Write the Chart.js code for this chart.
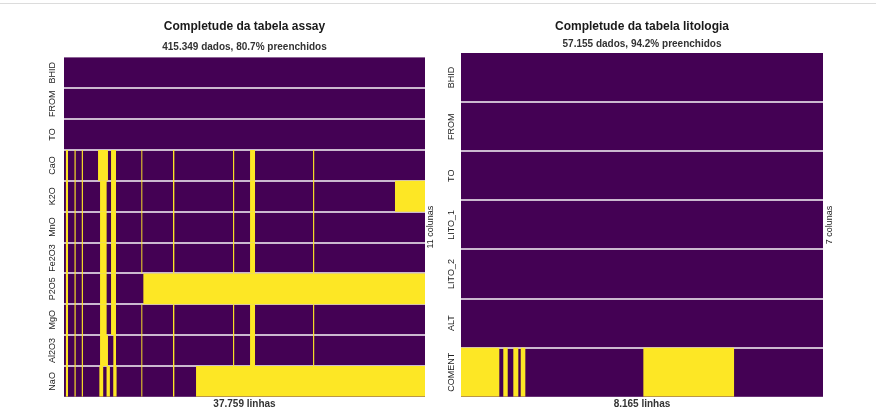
<!DOCTYPE html>
<html>
<head>
<meta charset="utf-8">
<script src="https://cdn.jsdelivr.net/npm/chart.js@4/dist/chart.umd.min.js"></script>
<style>
  body { margin: 0; background: #fff; width: 876px; height: 415px; overflow: hidden; position: relative; }
  #topline { position: absolute; left: 0; top: 3px; width: 876px; height: 1px; background: #dcdcdc; }
  canvas { position: absolute; top: 0; }
  #assay { left: 0; }
  #lito { left: 440px; }
</style>
</head>
<body>
<div id="topline"></div>
<canvas id="assay" width="440" height="415"></canvas>
<canvas id="lito" width="436" height="415"></canvas>
<script>
// tabela assay
const assayCols = ['BHID', 'FROM', 'TO', 'CaO', 'K2O', 'MnO', 'Fe2O3', 'P2O5', 'MgO', 'Al2O3', 'NaO'];
const assayRows = 37759;
// intervalos de linhas vazias (inicio, fim) por coluna
const assayGaps = [
    [],
    [],
    [],
    [[200, 420], [1100, 1220], [1860, 1980], [3560, 4600], [4920, 5440], [8090, 8190], [11400, 11540], [17680, 17800], [19460, 19980], [26050, 26170]],
    [[200, 420], [1100, 1220], [1860, 1980], [3770, 4460], [4920, 5440], [8090, 8190], [11400, 11540], [17680, 17800], [19460, 19980], [26050, 26170], [34620, 37759]],
    [[200, 420], [1100, 1220], [1860, 1980], [3770, 4460], [4920, 5440], [8090, 8190], [11400, 11540], [17680, 17800], [19460, 19980], [26050, 26170]],
    [[200, 420], [1100, 1220], [1860, 1980], [3770, 4460], [4920, 5440], [8090, 8190], [11400, 11540], [17680, 17800], [19460, 19980], [26050, 26170]],
    [[200, 420], [1100, 1220], [1860, 1980], [3770, 4460], [4920, 5440], [8300, 37759]],
    [[200, 420], [1100, 1220], [1860, 1980], [3770, 4460], [4920, 5440], [8090, 8190], [11400, 11540], [17680, 17800], [19460, 19980], [26050, 26170]],
    [[200, 420], [1100, 1220], [1860, 1980], [3770, 4600], [5160, 5440], [8090, 8190], [11400, 11540], [17680, 17800], [19460, 19980], [26050, 26170]],
    [[200, 420], [1100, 1220], [1860, 1980], [3700, 4100], [4450, 4800], [5150, 5500], [8090, 8190], [11400, 11540], [13810, 37759]]
];

// tabela litologia
const litoCols = ['BHID', 'FROM', 'TO', 'LITO_1', 'LITO_2', 'ALT', 'COMENT'];
const litoRows = 8165;
const litoGaps = [
    [],
    [],
    [],
    [],
    [],
    [],
    [[0, 864], [954, 1054], [1180, 1293], [1347, 1451], [4113, 6159]]
];

const PURPLE = '#440154';
const YELLOW = '#fde725';
const SEP = 'rgba(255, 255, 255, 0.72)';

Chart.defaults.font.family = '"Liberation Sans", Arial, sans-serif';
Chart.defaults.color = '#222';

// fundo roxo + rotulos girados
const matrixPlugin = {
    id: 'matrix',
    beforeDraw(chart) {
        const a = chart.chartArea;
        const ctx = chart.ctx;
        ctx.save();
        ctx.fillStyle = PURPLE;
        ctx.fillRect(a.left, a.top, a.right - a.left, a.bottom - a.top);
        ctx.restore();
    },
    afterDraw(chart, args, opts) {
        const a = chart.chartArea;
        const ctx = chart.ctx;
        const y = chart.scales.y;
        ctx.save();
        ctx.fillStyle = '#222';
        ctx.textAlign = 'center';
        ctx.textBaseline = 'middle';
        ctx.font = '9px "Liberation Sans", Arial, sans-serif';
        opts.cols.forEach((c, i) => {
            ctx.save();
            ctx.translate(a.left - opts.labelGap, y.getPixelForValue(i));
            ctx.rotate(-Math.PI / 2);
            ctx.fillText(c, 0, 0);
            ctx.restore();
        });
        ctx.translate(a.right + opts.sideGap, (a.top + a.bottom) / 2);
        ctx.rotate(-Math.PI / 2);
        ctx.fillText(opts.cols.length + ' colunas', 0, 0);
        ctx.restore();
    }
};

function fmt(n) {
    return n.toLocaleString('de-DE');
}

function drawMatrix(id, cols, gaps, rows, cfg) {
    const data = [];
    cols.forEach((c, i) => gaps[i].forEach(g => data.push({ y: c, x: g })));

    return new Chart(document.getElementById(id), {
        type: 'bar',
        data: {
            labels: cols,
            datasets: [{
                data: data,
                backgroundColor: YELLOW,
                borderWidth: 0,
                inflateAmount: 0,
                barPercentage: 1,
                categoryPercentage: 1,
                grouped: false
            }]
        },
        options: {
            indexAxis: 'y',
            responsive: false,
            animation: false,
            layout: { padding: cfg.padding },
            plugins: {
                legend: { display: false },
                tooltip: { enabled: false },
                title: {
                    display: true,
                    text: cfg.title,
                    font: { size: 12, weight: 'bold' },
                    color: '#1a1a1a',
                    padding: cfg.titlePad
                },
                subtitle: {
                    display: true,
                    text: cfg.subtitle,
                    font: { size: 10, weight: 'bold' },
                    color: '#333',
                    padding: cfg.subPad
                },
                matrix: { cols: cols, labelGap: cfg.labelGap, sideGap: cfg.sideGap }
            },
            scales: {
                x: {
                    type: 'linear',
                    min: 0,
                    max: rows,
                    ticks: { display: false },
                    grid: { display: false, drawTicks: false },
                    border: { display: false },
                    title: {
                        display: true,
                        text: fmt(rows) + ' linhas',
                        font: { size: 10, weight: 'bold' },
                        color: '#333',
                        padding: { top: 1.6, bottom: 4.6 }
                    }
                },
                y: {
                    type: 'category',
                    offset: true,
                    z: 1,
                    ticks: { display: false },
                    border: { display: false },
                    grid: {
                        offset: true,
                        drawTicks: false,
                        lineWidth: 2,
                        color: ctx => (ctx.index > 0 ? SEP : 'transparent')
                    }
                }
            }
        },
        plugins: [matrixPlugin]
    });
}

drawMatrix('assay', assayCols, assayGaps, assayRows, {
    title: 'Completude da tabela assay',
    subtitle: '415.349 dados, 80.7% preenchidos',
    padding: { left: 64, right: 15, top: 0, bottom: 0 },
    titlePad: { top: 19, bottom: 6 },
    subPad: { top: 2, bottom: 4 },
    labelGap: 11,
    sideGap: 6
});

drawMatrix('lito', litoCols, litoGaps, litoRows, {
    title: 'Completude da tabela litologia',
    subtitle: '57.155 dados, 94.2% preenchidos',
    padding: { left: 21, right: 53, top: 0, bottom: 0 },
    titlePad: { top: 19, bottom: 4 },
    subPad: { top: 0.6, bottom: 3 },
    labelGap: 9,
    sideGap: 7
});
</script>
</body>
</html>
